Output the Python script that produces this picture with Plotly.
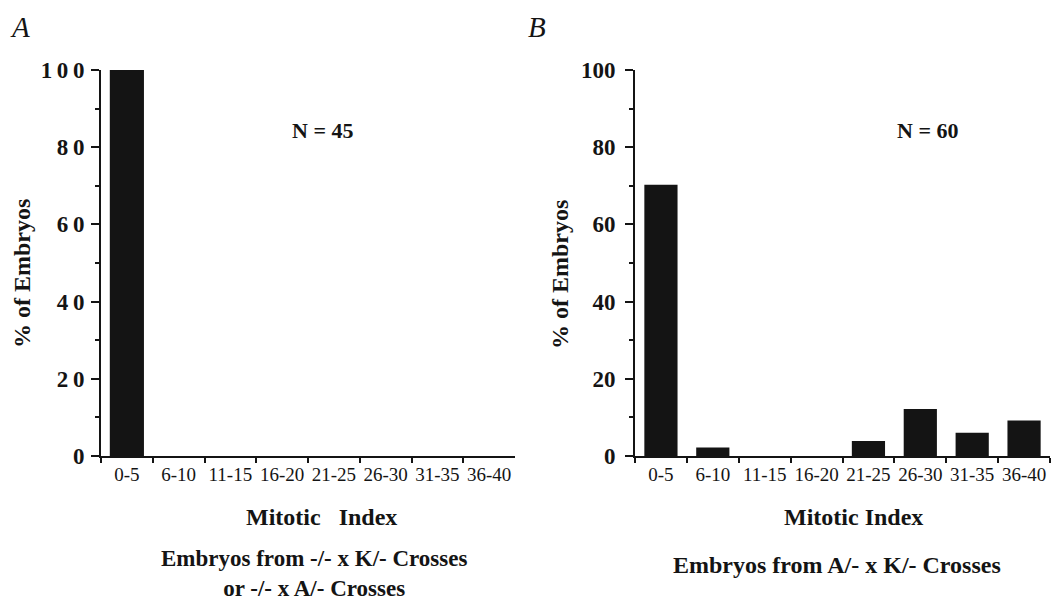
import plotly.graph_objects as go

# The page has an 8px body margin, so the figure is sized and positioned to compensate.
OFF = 8
W, H = 1059 - OFF, 602 - OFF

categories = ["0-5", "6-10", "11-15", "16-20", "21-25", "26-30", "31-35", "36-40"]
pct_a = [100, 0, 0, 0, 0, 0, 0, 0]
pct_b = [70.3, 2.2, 0, 0, 3.9, 12.2, 6.0, 9.2]
y_ticks = [0, 20, 40, 60, 80, 100]
y_ticktext_a = ["0", "2\u20090", "4\u20090", "6\u20090", "8\u20090", "1\u20090\u20090"]
y_ticktext_b = ["0", "20", "40", "60", "80", "100"]

FONT = "Liberation Serif, Times New Roman, serif"
INK = "#141414"


def px(x):
    return (x - OFF) / W


def py(y):
    return 1 - (y - OFF) / H


fig = go.Figure()
fig.add_trace(go.Bar(x=categories, y=pct_a, marker=dict(color=INK, line=dict(width=0)),
                     width=0.66, xaxis="x", yaxis="y", showlegend=False))
fig.add_trace(go.Bar(x=categories, y=pct_b, marker=dict(color=INK, line=dict(width=0)),
                     width=0.64, xaxis="x2", yaxis="y2", showlegend=False))

common_x = dict(type="category", categoryorder="array", categoryarray=categories,
                range=[-0.5, 7.5], showline=True, linecolor=INK, linewidth=2,
                ticks="outside", tickson="boundaries", ticklen=5, tickwidth=1.5,
                tickcolor=INK, showgrid=False, zeroline=False, automargin=False,
                tickangle=0,
                tickfont=dict(family=FONT, size=19, color=INK), fixedrange=True)
common_y = dict(range=[0, 100], showline=True, linecolor=INK, linewidth=2,
                ticks="outside", ticklen=8, tickwidth=1.5, tickcolor=INK,
                tickmode="array", tickvals=y_ticks, automargin=False,
                minor=dict(dtick=10, ticks="outside", ticklen=4, tickwidth=1.5, tickcolor=INK),
                showgrid=False, zeroline=False, fixedrange=True,
                tickfont=dict(family=FONT, size=23, color=INK, weight="bold"))

fig.update_layout(
    width=W, height=H,
    margin=dict(l=0, r=0, t=0, b=0, pad=0),
    paper_bgcolor="white", plot_bgcolor="white",
    xaxis=dict(domain=[px(101), px(515)], anchor="y", **common_x),
    yaxis=dict(domain=[py(456), py(70)], anchor="x", ticktext=y_ticktext_a,
               ticklabelstandoff=2, **common_y),
    xaxis2=dict(domain=[px(635), px(1050)], anchor="y2", **common_x),
    yaxis2=dict(domain=[py(456), py(70)], anchor="x2", ticktext=y_ticktext_b,
                ticklabelstandoff=5, **common_y),
)

def note(text, x, y, size, bold=True, italic=False, angle=0, yanchor="middle"):
    fig.add_annotation(text=text, x=px(x), y=py(y), xref="paper", yref="paper",
                       showarrow=False, xanchor="center", yanchor=yanchor,
                       textangle=angle, align="center",
                       font=dict(family=FONT, size=size, color=INK,
                                 weight="bold" if bold else "normal",
                                 style="italic" if italic else "normal"))

note("A", 20, 8.5, 29, bold=False, italic=True, yanchor="top")
note("B", 537, 8.5, 29, bold=False, italic=True, yanchor="top")
note("% of Embryos", 22, 274, 24, angle=-90)
note("% of Embryos", 560, 275, 24, angle=-90)
note("N = 45", 322, 130, 22)
note("N = 60", 927, 130, 22)
note("Mitotic&nbsp;&nbsp;&nbsp;Index", 321, 517, 24)
note("Mitotic Index", 853, 517, 24)
note("Embryos from -/- x K/- Crosses<br>or -/- x A/- Crosses", 314, 573, 23)
note("Embryos from A/- x K/- Crosses", 837, 565, 24)

fig.write_html("out.html")
